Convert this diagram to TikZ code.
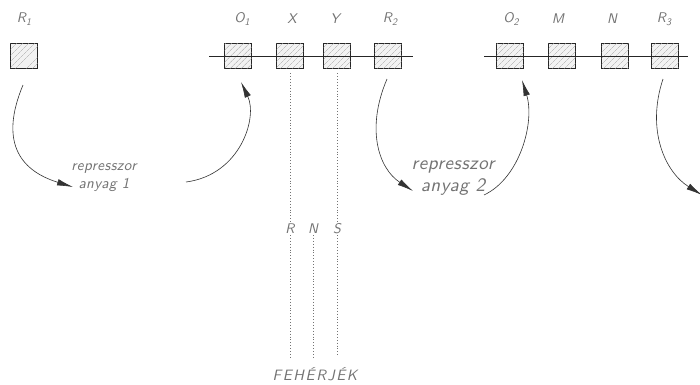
\documentclass[tikz,border=0pt]{standalone}
\usepackage{fontspec}
\usetikzlibrary{arrows.meta,patterns.meta}

% light oblique lettering: widely spaced for gene names, tighter for notes
\newfontfamily\letterfam[Extension=.otf, UprightFont=lmsans10-oblique,
  ItalicFont=lmsans10-oblique, LetterSpace=11]{lmsans10-oblique}
\newfontfamily\notefam[Extension=.otf, UprightFont=lmsans10-oblique,
  ItalicFont=lmsans10-oblique, LetterSpace=3]{lmsans10-oblique}
\newcommand\letterfont[2]{\letterfam\fontsize{#1}{#2}\selectfont}
\newcommand\notefont[2]{\notefam\fontsize{#1}{#2}\selectfont}
\newcommand\sbs[1]{\raisebox{-0.45ex}{\fontsize{10}{10}\selectfont #1}}

\tikzset{
  gene/.style={draw=black!85, line width=1.5pt, minimum width=27pt, minimum height=25pt,
    inner sep=0pt, fill=gray!10,
    postaction={pattern={Lines[angle=45,distance=4pt,line width=0.45pt]}, pattern color=gray!70}},
  strand/.style={line width=1pt, black!85},
  lbl/.style={text=black!55, inner sep=1pt, font=\letterfont{14}{16}},
  note/.style={text=black!55, inner sep=1pt, align=center},
  loopline/.style={line width=0.6pt, black!80, -{Latex[length=16pt,width=6.5pt]}},
  dotline/.style={line width=0.9pt, black!55, dash pattern=on 0.9pt off 2pt},
}

\begin{document}
\begin{tikzpicture}[x=1pt,y=-1pt]
  \useasboundingbox[fill=white] (0,0) rectangle (700,384);

  % regulator gene R1 (stands alone)
  \node[gene] (r1) at (24,56) {};
  \node[lbl] at (24,19) {R\sbs{1}};

  % first operon: O1 X Y R2 on one strand
  \coordinate (s1a) at (209,56);
  \coordinate (s1b) at (413,56);
  \node[gene] (o1) at (238,56) {};
  \node[gene] (gx) at (290,56) {};
  \node[gene] (gy) at (337,56) {};
  \node[gene] (r2) at (388,56) {};
  \draw[strand] (s1a) -- (s1b);
  \node[lbl] at (242,19) {O\sbs{1}};
  \node[lbl] at (292,19) {X};
  \node[lbl] at (335,19) {Y};
  \node[lbl] at (390,19) {R\sbs{2}};

  % second operon: O2 M N R3 on one strand
  \coordinate (s2a) at (484,56);
  \coordinate (s2b) at (688,56);
  \node[gene] (o2) at (510,56) {};
  \node[gene] (gm) at (562,56) {};
  \node[gene] (gn) at (615,56) {};
  \node[gene] (r3) at (665,56) {};
  \draw[strand] (s2a) -- (s2b);
  \node[lbl] at (511,19) {O\sbs{2}};
  \node[lbl] at (558,19) {M};
  \node[lbl] at (612,19) {N};
  \node[lbl] at (664,19) {R\sbs{3}};

  % repressor substances
  \node[note, font=\notefont{15}{18}] (rep1) at (104,178) {represszor\\anyag 1};
  \node[note, font=\notefont{19}{22}] (rep2) at (453,178) {represszor\\anyag 2};

  % repression loops
  \coordinate (a1s) at (23,85);   \coordinate (a1e) at (73,187);
  \coordinate (a2s) at (186,182); \coordinate (a2e) at (241,82);
  \coordinate (a3s) at (387,79);  \coordinate (a3e) at (413,191);
  \coordinate (a4s) at (484,195); \coordinate (a4e) at (522,80);
  \coordinate (a5s) at (663,79);  \coordinate (a5e) at (702,195);
  \draw[loopline] (a1s) .. controls (0,140) and (18,170) .. (a1e);
  \draw[loopline] (a2s) .. controls (240,175) and (258,118) .. (a2e);
  \draw[loopline] (a3s) .. controls (366,128) and (378,168) .. (a3e);
  \draw[loopline] (a4s) .. controls (520,178) and (535,122) .. (a4e);
  \draw[loopline] (a5s) .. controls (646,130) and (665,172) .. (a5e);

  % transcription: RNS, then proteins
  \node[lbl] (rns-r) at (290,229) {R};
  \node[lbl] (rns-n) at (313,229) {N};
  \node[lbl] (rns-s) at (337,229) {S};
  \node[lbl, font=\letterfont{15}{17}] (prot) at (315,374) {FEHÉRJÉK};
  \coordinate (pr) at (290,357);
  \coordinate (pn) at (313,357);
  \coordinate (ps) at (337,357);
  \draw[dotline] (gx.south) ++(0,4) -- (rns-r.north);
  \draw[dotline] (gy.south) ++(0,4) -- (rns-s.north);
  \draw[dotline] (rns-r.south) -- (pr);
  \draw[dotline] (rns-n.south) -- (pn);
  \draw[dotline] (rns-s.south) -- (ps);
\end{tikzpicture}
\end{document}
